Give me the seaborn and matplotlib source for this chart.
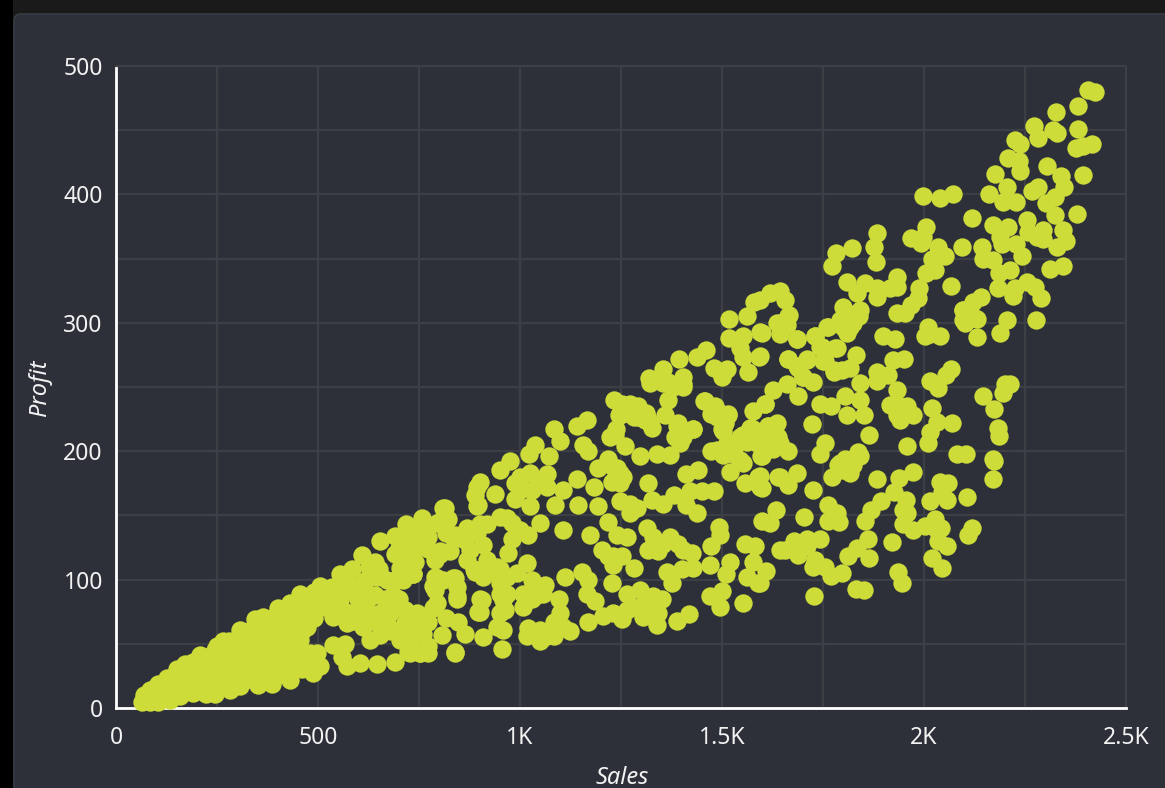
import pandas as pd
import matplotlib
matplotlib.use('Agg')
import matplotlib.pyplot as plt
from matplotlib.patches import FancyBboxPatch, Rectangle
from matplotlib.ticker import MultipleLocator
import seaborn as sns

# values, same order in both lists
sales = [
    2407, 2423, 2380, 2326, 2380, 2272, 2281, 2320, 2330, 2225, 2238, 2415, 2394, 2376, 2209, 2234, 2238, 2176, 2304, 2339,
    2347, 2394, 2205, 2161, 2196, 2227, 2283, 2267, 2324, 2301, 2324, 2378, 2120, 2170, 2209, 2256, 2258, 2295, 2345, 2279,
    2351, 2328, 2295, 2188, 2192, 2228, 2242, 2093, 2144, 2147, 2170, 2213, 2186, 2184, 2221, 2225, 2256, 2275, 2289, 2313,
    2343, 2276, 2205, 2188, 2141, 2122, 2096, 2101, 2130, 2130, 2068, 1998, 2040, 2073, 2004, 1998, 1967, 1992, 2035, 2052,
    2021, 2027, 2004, 1988, 1986, 1969, 1953, 1934, 1934, 1932, 1916, 1883, 1883, 1854, 1835, 1809, 1883, 1876, 1882, 1823,
    1781, 1773, 1800, 1838, 1829, 1813, 1763, 1730, 1809, 1899, 1927, 2009, 2003, 2040,
    1808, 1833, 1817, 1747, 1785, 1831, 1751, 1776, 1796, 1817, 1664, 1710, 1689, 1701, 1726, 1644, 1664, 1644, 1685, 1598,
    1594, 1950, 1924, 1883, 1883, 1912, 1842, 1932, 2015, 2068, 2054, 2015, 2035, 2097, 2126, 2145, 2174, 2200, 2213, 2195,
    2020, 2031, 2069, 2015, 2009, 2183, 2186, 2081, 2103, 2170, 2173, 2172,
    1627, 1660, 1689, 1606, 1743, 1771, 1804, 1842, 1810, 1851, 1917, 1957, 1973, 1941, 1949, 1722, 1864, 1957, 1755, 1743,
    1837, 1804, 1842, 1788, 1817, 1773, 1615, 1639, 1623, 1664, 1598, 1639, 1664, 1686, 1598, 1594, 1726, 1884, 1974, 1939,
    1926, 1955, 1893, 1870, 1854, 1957, 1949, 1972, 2002, 2027, 2042, 2035, 2058, 2040, 2060, 2016, 2058, 2106, 2120, 2110,
    1763, 1784, 1763, 1790, 1703, 1633, 1619, 1598, 1921, 1862, 1833, 1811, 1865, 1743, 1710, 1679, 1656, 1689, 1730, 1755,
    1771, 1798, 1726, 1610, 1594, 2019, 2044, 1936, 1945, 1832, 1852, 1728,
    720, 757, 810, 823, 773, 802, 827, 757, 728, 736, 711, 790, 839, 790, 843, 786, 901, 901, 951, 963,
    959, 909, 956, 1021, 1050, 1083, 1124, 1097, 1099, 1083, 1008, 1037, 1062, 1029, 1017, 971, 979, 1021, 1050, 1107,
    1087, 1144, 1107, 1066, 1025, 988, 1025, 975, 951, 938, 901, 889, 893, 918, 864, 909, 918, 889, 909, 951,
    967, 979, 1037, 1023, 1073, 1083, 1099, 1142, 1165, 1157, 1169, 1142, 1182, 1194, 1219, 1239, 1173, 1202, 1231, 1252,
    1283, 1264, 1314, 1318, 1342, 1371, 1404, 1425, 1429, 1470, 1474, 1493, 1495, 1375, 1363, 1400, 1111, 1153, 1169, 1165,
    1186, 1227, 1264, 1297, 1330, 1351, 1338, 1342, 1305, 1252, 1206, 1169, 1389, 1418, 1470, 1499, 1495, 1551, 1511, 1520,
    1561, 1590, 1577, 1557, 1582, 1644,
    1235, 1248, 1289, 1309, 1326, 1231, 1260, 1297, 1338, 1371, 1392, 1429, 1396, 1404, 1322, 1458, 1483, 1516, 1499, 1553,
    1577, 1606, 1474, 1503, 1532, 1553, 1569, 1627, 1596, 1520, 1553, 1557, 1590, 1594, 1644, 1239, 1219, 1194, 1256, 1227,
    1248, 1441, 1412, 1318, 1326, 1355, 1380, 1421, 1450, 1479, 1437, 1412, 1248, 1272, 1289, 1272,
    818, 847, 864, 839, 806, 773, 752, 728, 715, 752, 711,
    1644, 1619, 1594, 1579, 1656, 1667, 1637, 1561, 1518, 1518, 1551, 1594, 1685, 1660, 1545, 1551, 1592, 1565, 1479, 1512,
    1499, 1460, 1437, 1394, 1353, 1320, 1403, 1404, 1367, 1367, 1293, 1252, 1233, 1246, 1314, 1359, 1238, 1223, 1389, 1427,
    1456, 1474, 1516, 1507, 1571, 1615, 1635, 1545, 1664, 1710, 1685, 1701, 1755, 1730, 1759, 1743, 1780, 1776,
    64, 84, 105, 125, 150, 171, 208, 245, 266, 307, 344, 365, 402, 455, 505, 554, 608, 641, 653, 691,
    719, 814, 818, 84, 105, 134, 158, 224, 245, 282, 307, 352, 385, 431, 488, 505, 571, 604, 645, 691,
    559, 567, 538, 497, 629, 653, 752, 724, 773, 839, 125, 167, 208, 249, 290, 332, 373, 414, 455, 208,
    249, 290, 332, 373, 414, 455, 290, 332, 373, 414, 455, 390, 431, 472, 472, 480,
    521, 554, 571, 612, 645, 670, 686, 620, 587, 538, 571, 612, 653, 678, 715, 670, 703, 703, 744, 794,
    835, 785, 794, 843, 785, 905, 897, 736, 703, 728, 802, 761, 773, 860, 901, 893, 897, 868, 885, 942, 950,
    # dense lower left wedge
    70, 95, 115, 145, 100, 100, 100, 130, 130, 130, 160, 160, 160, 190, 190, 190, 190, 190,
    220, 220, 220, 220, 220, 250, 250, 250, 250, 250, 280, 280, 280, 280, 280, 310, 310, 310, 310, 310,
    340, 340, 340, 340, 340, 370, 370, 370, 370, 370, 400, 400, 400, 400, 400, 430, 430, 430, 430, 430, 430,
    460, 460, 460, 460, 460, 490, 490, 490, 490, 525, 535,
    # 550 to 900
    540, 570, 590, 560, 600, 625, 640, 665, 650, 625, 690, 700, 590, 630, 680, 730, 760, 720, 745,
    585, 620, 600, 690, 720, 740, 700, 770, 740, 760, 800, 790, 840, 870,
    # clusters in the middle
    1000, 1045, 1029, 1000, 1066, 988, 1231, 1247, 1330, 1355, 1392, 1219, 1231, 1313, 1280, 1330, 1305, 1330, 1264, 1231,
    1033, 1058, 1008, 1029, 950, 959, 950, 967, 942, 1033, 1050, 1017, 1066, 1107, 810, 794, 843, 736, 761, 728,
    773, 715, 744, 893, 876, 930, 918, 967, 992, 1000, 794, 818, 835, 728, 744, 715, 740,
    1577, 1602, 1635, 1586, 1627, 1561, 1528, 1544, 1495, 1507, 1487, 1512, 1272, 1297, 1313, 1281, 1322, 1384, 1404,
    1817, 1792, 1841, 1800, 1825, 2114, 2097, 1940, 1932, 1627, 1644, 1610, 1792, 1817, 1825, 1800, 1949, 2031, 2044, 1676, 1710,
    1379, 1355, 1487, 1503, 1272, 1293,
]
profit = [
    481, 480, 469, 464, 451, 453, 444, 450, 448, 442, 439, 439, 438, 436, 428, 426, 418, 416, 422, 414,
    406, 415, 406, 400, 394, 394, 406, 403, 398, 393, 384, 385, 382, 376, 375, 380, 371, 372, 372, 367,
    364, 359, 365, 367, 361, 361, 352, 359, 359, 350, 349, 341, 339, 327, 321, 327, 332, 328, 319, 342,
    344, 302, 302, 292, 320, 316, 310, 300, 303, 289, 329, 399, 397, 400, 375, 367, 366, 362, 359, 352,
    350, 341, 339, 327, 319, 314, 308, 308, 336, 328, 327, 327, 320, 331, 323, 332, 370, 359, 347, 358,
    354, 344, 312, 305, 307, 302, 297, 290, 292, 290, 287, 297, 290, 290,
    305, 305, 297, 281, 280, 275, 270, 263, 263, 265, 272, 272, 265, 258, 254, 300, 305, 291, 287, 292,
    274, 272, 271, 262, 255, 259, 253, 248, 291, 264, 259, 255, 249, 310, 304, 243, 233, 252, 252, 245,
    234, 223, 222, 215, 206, 218, 212, 198, 198, 194, 192, 178,
    248, 252, 243, 237, 237, 235, 243, 240, 228, 228, 236, 235, 228, 224, 230, 221, 213, 204, 206, 198,
    199, 194, 196, 189, 183, 180, 220, 211, 209, 200, 196, 180, 174, 183, 171, 181, 170, 178, 184, 179,
    168, 162, 161, 154, 146, 152, 143, 139, 142, 147, 140, 130, 126, 176, 175, 161, 162, 164, 140, 135,
    158, 152, 146, 145, 149, 154, 144, 146, 129, 132, 125, 118, 117, 132, 132, 130, 123, 119, 115, 110,
    103, 105, 110, 107, 97, 117, 109, 106, 97, 93, 92, 87,
    141, 148, 156, 147, 133, 122, 122, 126, 128, 104, 100, 102, 101, 92, 85, 79, 85, 75, 89, 76,
    61, 55, 46, 62, 52, 56, 60, 85, 74, 67, 79, 87, 96, 100, 113, 121, 132, 135, 144, 139,
    158, 158, 170, 182, 183, 163, 157, 192, 185, 167, 176, 166, 157, 143, 131, 127, 115, 106, 102, 108,
    148, 144, 205, 198, 196, 217, 208, 220, 224, 205, 200, 178, 172, 157, 145, 135, 135, 123, 111, 118,
    109, 133, 140, 123, 122, 133, 123, 121, 109, 111, 126, 141, 135, 97, 106, 108, 102, 106, 100, 89,
    83, 97, 89, 92, 87, 85, 65, 74, 71, 69, 72, 67, 68, 73, 87, 91, 79, 82, 104, 114,
    102, 97, 114, 128, 126, 123,
    213, 228, 232, 224, 218, 213, 204, 196, 198, 197, 222, 217, 206, 252, 253, 239, 235, 228, 217, 213,
    231, 237, 200, 197, 204, 213, 218, 210, 196, 184, 191, 175, 180, 172, 180, 187, 194, 187, 180, 176,
    175, 185, 182, 175, 162, 159, 166, 169, 169, 169, 152, 158, 161, 159, 156, 152,
    70, 67, 58, 44, 57, 67, 43, 50, 76, 58, 58,
    325, 323, 318, 316, 318, 306, 300, 305, 303, 288, 290, 293, 287, 298, 280, 273, 273, 262, 265, 264,
    258, 279, 273, 272, 264, 257, 258, 250, 254, 240, 235, 237, 240, 228, 227, 228, 217, 211, 220, 217,
    239, 229, 229, 224, 218, 220, 212, 211, 272, 271, 266, 258, 270, 290, 297, 281, 280, 262,
    5, 14, 19, 23, 30, 34, 41, 45, 52, 61, 69, 71, 78, 89, 95, 104, 119, 114, 130, 134,
    143, 156, 148, 5, 5, 6, 9, 11, 11, 14, 17, 18, 19, 22, 27, 33, 33, 35, 34, 36,
    40, 50, 49, 43, 53, 57, 43, 44, 43, 43, 14, 19, 22, 24, 27, 30, 30, 32, 35, 32,
    37, 40, 45, 48, 50, 53, 50, 58, 61, 66, 69, 71, 79, 84, 63, 43,
    89, 84, 92, 97, 102, 100, 88, 82, 74, 71, 66, 63, 74, 74, 76, 66, 61, 53, 58, 101,
    101, 95, 82, 87, 78, 84, 75, 104, 109, 119, 120, 126, 124, 132, 143, 172, 158, 115, 108, 110, 149,
    # dense lower left wedge
    10, 8, 11, 16, 8, 12, 16, 10, 15, 20, 14, 20, 26, 12, 18, 24, 32, 36,
    16, 22, 28, 34, 40, 15, 20, 30, 42, 48, 18, 24, 34, 44, 52, 20, 28, 38, 48, 56,
    22, 34, 42, 52, 62, 24, 38, 44, 56, 66, 26, 36, 44, 58, 70, 28, 40, 48, 60, 74, 82,
    30, 44, 60, 78, 84, 36, 70, 82, 90, 78, 94,
    # 550 to 900
    80, 75, 95, 100, 85, 72, 88, 85, 108, 110, 100, 85, 68, 68, 60, 55, 68, 65, 72,
    108, 100, 90, 120, 130, 135, 125, 140, 125, 140, 145, 115, 135, 140,
    # clusters in the middle
    180, 175, 170, 170, 172, 175, 188, 183, 133, 128, 128, 118, 118, 84, 79, 79, 79, 71, 76, 74,
    95, 89, 89, 85, 97, 84, 74, 89, 63, 58, 61, 56, 56, 63, 100, 97, 94, 61, 58, 43,
    48, 66, 74, 136, 123, 110, 106, 102, 105, 139, 144, 136, 133, 139, 133, 110, 114,
    217, 213, 222, 206, 202, 207, 198, 193, 230, 222, 201, 206, 237, 227, 230, 227, 222, 211, 211,
    306, 302, 310, 297, 300, 305, 302, 235, 228, 215, 206, 206, 191, 193, 189, 185, 154, 139, 168, 124, 126,
    250, 253, 227, 216, 229, 227,
]
x_ticks = [0, 500, 1000, 1500, 2000, 2500]
x_tick_labels = ['0', '500', '1K', '1.5K', '2K', '2.5K']
y_ticks = [0, 100, 200, 300, 400, 500]

PANEL = '#2d3039'
GRID = '#3c3f44'
DOT = '#cddc39'
TEXT = '#f2f2f2'

sns.set_theme(style='dark')
plt.rcParams['font.family'] = ['Noto Sans', 'DejaVu Sans']

W, H = 1165, 788
fig = plt.figure(figsize=(W / 100, H / 100), dpi=100, facecolor='black')

# page behind the card
fig.add_artist(Rectangle((13 / W, 0), 1, 1, transform=fig.transFigure, color='#1a1a1a', lw=0, zorder=-2))
fig.add_artist(FancyBboxPatch((14 / W, -20 / H), 1.2, (H + 20 - 14) / H + 0, boxstyle='round,pad=0,rounding_size=0.006',
                              transform=fig.transFigure, fc=PANEL, ec='#393c43', lw=1.2, mutation_aspect=W / H, zorder=-1))

ax = fig.add_axes([116 / W, (H - 708) / H, (1126 - 116) / W, (708 - 66) / H])
ax.set_facecolor('none')

df = pd.DataFrame({'Sales': sales, 'Profit': profit})
sns.scatterplot(data=df, x='Sales', y='Profit', color=DOT, s=175, linewidth=0, alpha=1,
                clip_on=False, zorder=5, ax=ax)

ax.set_xlim(0, 2500)
ax.set_ylim(0, 500)
ax.set_xticks(x_ticks)
ax.set_xticklabels(x_tick_labels)
ax.set_yticks(y_ticks)
ax.xaxis.set_minor_locator(MultipleLocator(250))
ax.yaxis.set_minor_locator(MultipleLocator(50))
ax.grid(True, which='both', color=GRID, lw=1.6)
ax.set_axisbelow(True)
ax.tick_params(which='both', length=0)
ax.tick_params(axis='x', labelsize=16.5, labelcolor=TEXT, pad=13)
ax.tick_params(axis='y', labelsize=16.5, labelcolor=TEXT, pad=9.5)

for side in ['top', 'right']:
    ax.spines[side].set_color(GRID)
    ax.spines[side].set_linewidth(1.6)
for side in ['left', 'bottom']:
    ax.spines[side].set_visible(True)
    ax.spines[side].set_color('white')
    ax.spines[side].set_linewidth(2)

ax.set_xlabel('Sales', fontsize=17, style='italic', color=TEXT)
ax.set_ylabel('Profit', fontsize=17, style='italic', color=TEXT)
ax.xaxis.set_label_coords((622 - 116) / (1126 - 116), (708 - 778) / (708 - 66), transform=ax.transAxes)
ax.yaxis.set_label_coords((40 - 116) / (1126 - 116), (708 - 388) / (708 - 66), transform=ax.transAxes)
ax.xaxis.label.set_verticalalignment('center')
ax.yaxis.label.set_verticalalignment('center')

fig.savefig('out.png', dpi=100, facecolor=fig.get_facecolor())
